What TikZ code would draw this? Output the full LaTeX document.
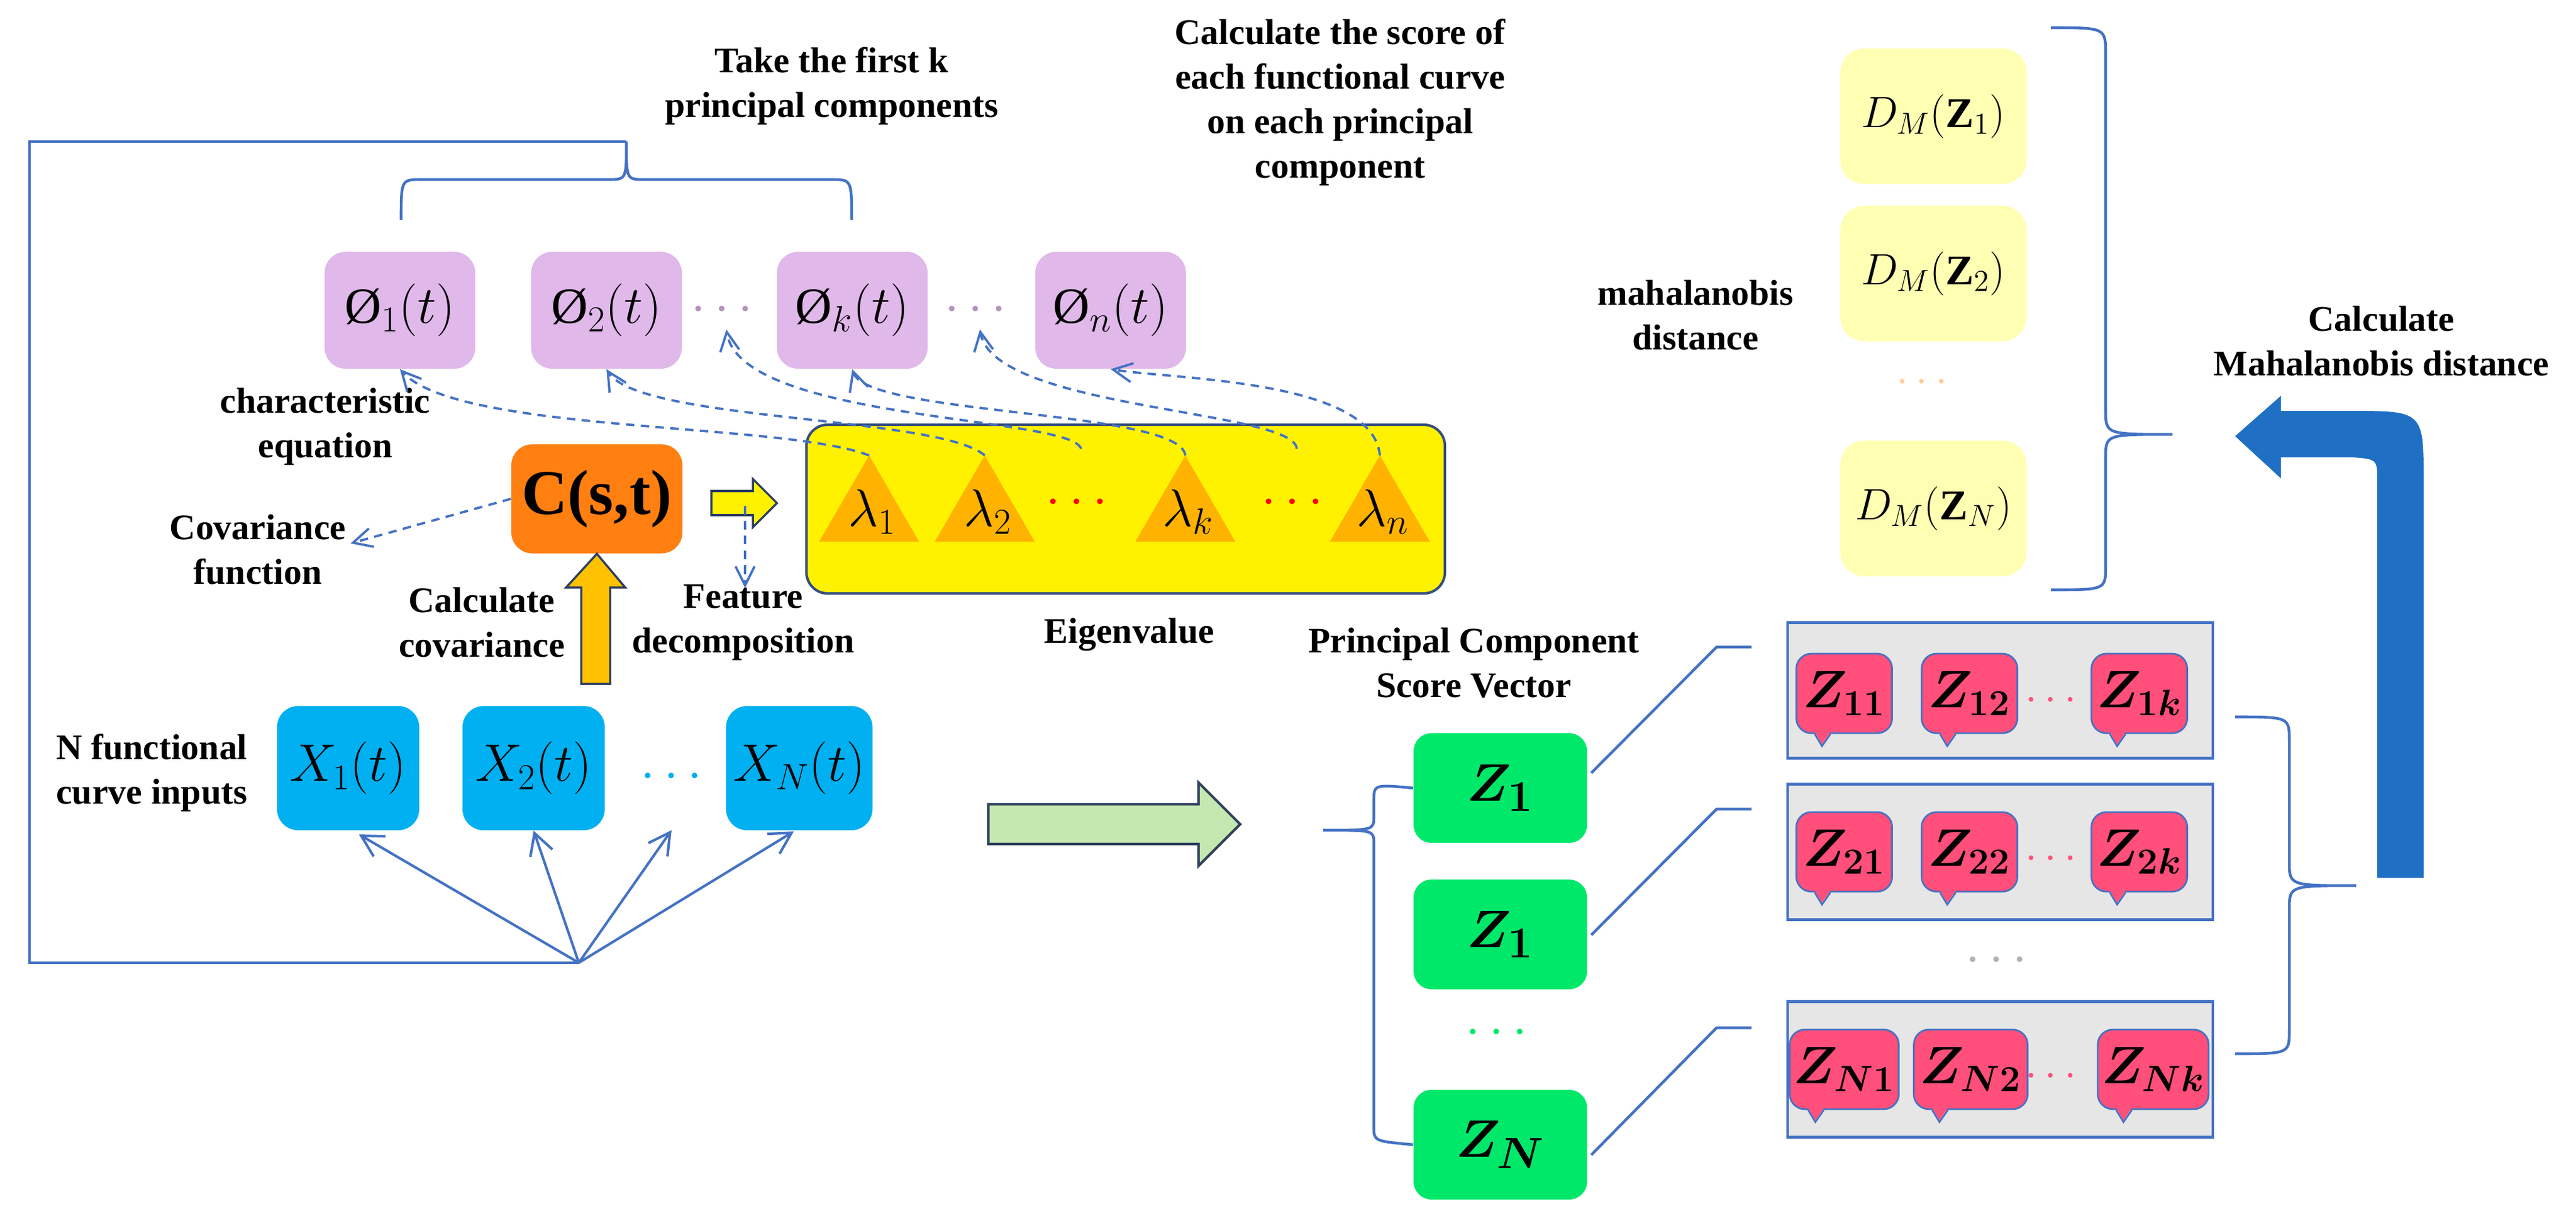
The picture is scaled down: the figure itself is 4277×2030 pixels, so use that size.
\documentclass[tikz,border=0pt]{standalone}
\usepackage{amsmath,amssymb,bm}
\usepackage{fontspec}
\setmainfont{Liberation Serif}
\usetikzlibrary{arrows.meta,calc}
\definecolor{lb}{HTML}{4472C4}
\definecolor{purp}{HTML}{E0B8EA}
\definecolor{cyanb}{HTML}{00B0F0}
\definecolor{orng}{HTML}{FF7F10}
\definecolor{tri}{HTML}{FFB300}
\definecolor{grn}{HTML}{00E86A}
\definecolor{lyel}{HTML}{FFFFB3}
\definecolor{pnk}{HTML}{FF4F7A}
\definecolor{grayb}{HTML}{E6E6E6}
\definecolor{bigb}{HTML}{1F6FC5}
\definecolor{lgrn}{HTML}{C5E8B0}
\definecolor{navy}{HTML}{2F3F5F}
\tikzset{
 lbl/.style={font=\fontsize{17}{21}\selectfont\bfseries,align=center,inner sep=0pt},
 mth/.style={font=\fontsize{24}{28}\selectfont},
 phi/.style={fill=purp,rounded corners=0.35cm,minimum width=2.5cm,minimum height=1.94cm,mth},
 xb/.style={fill=cyanb,rounded corners=0.35cm,minimum width=2.36cm,minimum height=2.06cm,mth},
 db/.style={fill=lyel,rounded corners=0.4cm,minimum width=3.09cm,minimum height=2.25cm,font=\fontsize{20}{24}\selectfont},
 gb/.style={fill=grn,rounded corners=0.3cm,minimum width=2.88cm,minimum height=1.82cm,font=\fontsize{28}{32}\selectfont},
 gr/.style={fill=grayb,draw=lb,line width=1.2pt,minimum width=7.06cm,minimum height=2.25cm},
 bub/.style={fill=pnk,draw=lb,line width=0.8pt,rounded corners=0.25cm,minimum width=1.59cm,minimum height=1.32cm,font=\fontsize{24}{28}\selectfont,inner sep=0pt},
 ln/.style={lb,line width=1.3pt},
 dsh/.style={lb,line width=1.1pt,dash pattern=on 4pt off 3pt,-{Straight Barb[length=9pt,width=9pt]}},
 fan/.style={lb,line width=1.2pt,-{Straight Barb[length=10pt,width=11pt]}},
}
\newcommand\pointer[2]{\fill[pnk] ($(#1.south west)+(#2,0.03cm)$) -- ++(0.12cm,-0.2cm) -- ++(0.14cm,0.2cm) -- cycle;
 \draw[lb,line width=0.8pt] ($(#1.south west)+(#2,0)$) -- ++(0.12cm,-0.2cm) -- ++(0.14cm,0.2cm);}
\begin{document}
\begin{tikzpicture}[x=0.01cm,y=-0.01cm]
\useasboundingbox (0,0) rectangle (4277,2030);
% texts
\node[lbl] (ttop) at (1381,143) {Take the first k\\principal components};
\node[lbl] (tscore) at (2225,170) {Calculate the score of\\each functional curve\\on each principal\\component};
\node[lbl] (tchar) at (540,708) {characteristic\\equation};
\node[lbl] (tcovf) at (428,912) {Covariance\\function};
\node[lbl] (tcalc) at (800,1033) {Calculate\\covariance};
\node[lbl] (tfeat) at (1234,1033) {Feature\\decomposition};
\node[lbl] (teig) at (1875,1053) {Eigenvalue};
\node[lbl] (tN) at (252,1283) {N functional\\curve inputs};
\node[lbl] (tpc) at (2447,1100) {Principal Component\\Score Vector};
\node[lbl] (tmah) at (2815,523) {mahalanobis\\distance};
\node[lbl] (tcm) at (3954,566) {Calculate\\Mahalanobis distance};
% phi boxes
\node[phi] (p1) at (664,515) {$\text{\O}_1(t)$};
\node[phi] (p2) at (1007,515) {$\text{\O}_2(t)$};
\node[phi] (pk) at (1415,515) {$\text{\O}_k(t)$};
\node[phi] (pn) at (1844,515) {$\text{\O}_n(t)$};
\node[mth,text=purp!80!black] (pd1) at (1206,515) {$\cdots$};
\node[mth,text=purp!80!black] (pd2) at (1627,515) {$\cdots$};
% top brace and left loop
\coordinate (btip) at (1040,235);
\draw[ln] (666,365) .. controls (666,298) .. (700,298) -- (1010,298) .. controls (1040,298) .. (btip) .. controls (1040,298) .. (1070,298) -- (1380,298) .. controls (1414,298) .. (1414,365);
\coordinate (fanpt) at (961,1598);
\draw[ln] (btip) -- (49,235) -- (49,1598) -- (fanpt);
% yellow box
\draw[fill=yellow,draw=navy!70!lb,line width=1.2pt,rounded corners=0.35cm] (1339,705) rectangle (2399,985);
\foreach \n/\cx/\s in {t1/1443/1,t2/1635/2,tk/1968/k,tn/2291/n}{
 \fill[tri] (\cx,756) -- (\cx+83,899) -- (\cx-83,899) -- cycle;
 \coordinate (\n) at (\cx,756);
 \node[mth] (l\n) at (\cx+5,850) {$\lambda_{\s}$};}
\node[mth,text=red] (yd1) at (1795,835) {$\cdots$};
\node[mth,text=red] (yd2) at (2153,835) {$\cdots$};
\coordinate (ym1) at (1795,745);
\coordinate (ym2) at (2153,745);
% dashed curves
\draw[dsh] (t1) .. controls (1300,700) and (760,720) .. (p1.south);
\draw[dsh] (t2) .. controls (1560,690) and (1060,700) .. (p2.south);
\draw[dsh] (ym1) .. controls (1780,690) and (1230,700) .. (pd1.south);
\draw[dsh] (tk) .. controls (1960,680) and (1440,690) .. (pk.south);
\draw[dsh] (ym2) .. controls (2150,680) and (1650,680) .. (pd2.south);
\draw[dsh] (tn) .. controls (2280,630) and (1950,630) .. (pn.south);
% C box
\node[fill=orng,rounded corners=0.35cm,minimum width=2.84cm,minimum height=1.81cm,font=\fontsize{30}{34}\selectfont\bfseries] (C) at (991,828) {C(s,t)};
\coordinate (covend) at (582,902);
\draw[dsh] (C.west) -- (covend);
% small yellow arrow
\draw[fill=yellow,draw=navy,line width=1pt] (1181,815) -- (1250,815) -- (1250,795) -- (1290,835) -- (1250,875) -- (1250,855) -- (1181,855) -- cycle;
\coordinate (fs) at (1237,840);
\coordinate (fe) at (1237,976);
\draw[dsh] (fs) -- (fe);
% orange up arrow
\draw[fill=tri!80!yellow,draw=navy,line width=1pt] (965,1135) -- (965,975) -- (940,975) -- (C.south) -- (1038,975) -- (1013,975) -- (1013,1135) -- cycle;
% X boxes
\node[xb] (x1) at (578,1275) {$X_1(t)$};
\node[xb] (x2) at (886,1275) {$X_2(t)$};
\node[xb] (xn) at (1327,1275) {$X_N(t)$};
\node[mth,text=cyanb] (xd) at (1122,1290) {$\cdots$};
\draw[fan] (fanpt) -- (596,1385);
\draw[fan] (fanpt) -- (x2.south);
\draw[fan] (fanpt) -- (1115,1378);
\draw[fan] (fanpt) -- (1318,1380);
% green arrow
\draw[fill=lgrn,draw=navy,line width=1.2pt] (1641,1335) -- (1990,1335) -- (1990,1299) -- (2059,1368) -- (1990,1437) -- (1990,1401) -- (1641,1401) -- cycle;
% green boxes
\node[gb] (g1) at (2491,1308) {$\bm{Z_1}$};
\node[gb] (g2) at (2491,1551) {$\bm{Z_1}$};
\node[gb] (gn) at (2491,1900) {$\bm{Z_N}$};
\node[mth,text=grn] (gd) at (2492,1715) {$\cdots$};
\draw[ln] (g1.west) .. controls (2281,1302) .. (2281,1330) -- (2281,1355) .. controls (2281,1378) .. (2197,1378) .. controls (2281,1378) .. (2281,1400) -- (2281,1870) .. controls (2281,1894) .. (gn.west);
% gray boxes
\node[gr] (r1) at (3321,1146) {};
\node[gr] (r2) at (3321,1414) {};
\node[gr] (r3) at (3321,1775) {};
\node[mth,text=gray!60] (rd) at (3322,1595) {$\cdots$};
\coordinate (e1) at (2908,1074);
\coordinate (e2) at (2908,1343);
\coordinate (e3) at (2908,1706);
\draw[ln] (2642,1283) -- (2850,1074) -- (e1);
\draw[ln] (2642,1552) -- (2850,1343) -- (e2);
\draw[ln] (2642,1917) -- (2850,1706) -- (e3);
% bubbles
\node[bub] (z11) at (3062,1151) {$\bm{Z_{11}}$};
\node[bub] (z12) at (3270,1151) {$\bm{Z_{12}}$};
\node[bub] (z1k) at (3552,1151) {$\bm{Z_{1k}}$};
\node[bub] (z21) at (3062,1414) {$\bm{Z_{21}}$};
\node[bub] (z22) at (3270,1414) {$\bm{Z_{22}}$};
\node[bub] (z2k) at (3552,1414) {$\bm{Z_{2k}}$};
\node[bub,minimum width=1.81cm] (zn1) at (3062,1775) {$\bm{Z_{N1}}$};
\node[bub,minimum width=1.89cm] (zn2) at (3272,1775) {$\bm{Z_{N2}}$};
\node[bub,minimum width=1.84cm] (znk) at (3575,1775) {$\bm{Z_{Nk}}$};
\foreach \b in {z11,z12,z1k,z21,z22,z2k,zn1,zn2,znk}{\pointer{\b}{0.32cm}}
\foreach \y/\n in {1163/b1,1426/b2,1787/b3}{
 \node[text=pnk,font=\fontsize{20}{24}\selectfont] (\n) at (3411,\y) {$\cdots$};}
% right braces
\draw[ln] (3711,1190) .. controls (3801,1190) .. (3801,1230) -- (3801,1430) .. controls (3801,1470) .. (3912,1470) .. controls (3801,1470) .. (3801,1510) -- (3801,1710) .. controls (3801,1749) .. (3711,1749);
\node[db] (d1) at (3210,193) {$D_M(\mathbf{Z}_1)$};
\node[db] (d2) at (3210,454) {$D_M(\mathbf{Z}_2)$};
\node[db] (dn) at (3210,844) {$D_M(\mathbf{Z}_N)$};
\node[font=\fontsize{20}{24}\selectfont,text=orange!40] (dd) at (3197,635) {$\cdots$};
\draw[ln] (3405,46) .. controls (3496,46) .. (3496,90) -- (3496,680) .. controls (3496,721) .. (3607,721) .. controls (3496,721) .. (3496,760) -- (3496,940) .. controls (3496,979) .. (3405,979);
% big blue arrow
\fill[bigb] (3947,1457) -- (3947,800) .. controls (3947,762) .. (3905,759) -- (3787,759) -- (3787,794) -- (3711,724) -- (3787,657) -- (3787,682) -- (3900,682) .. controls (4024,682) .. (4024,800) -- (4024,1457) -- cycle;
\end{tikzpicture}
\end{document}
